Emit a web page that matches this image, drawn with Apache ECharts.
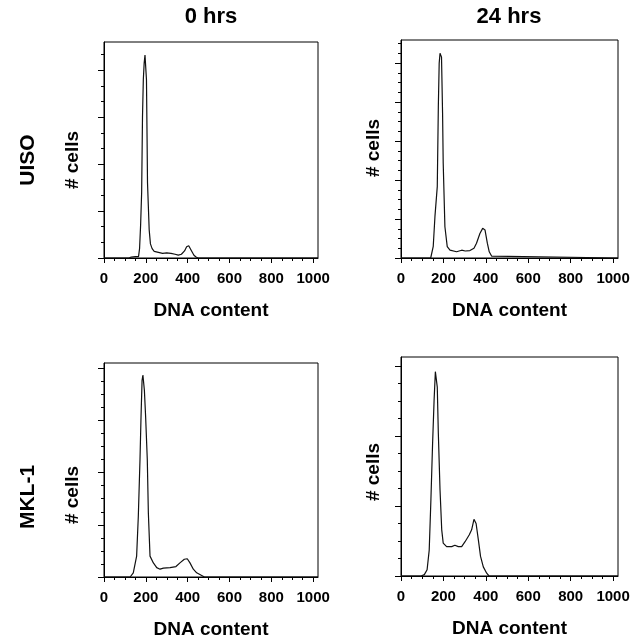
<!DOCTYPE html>
<html><head><meta charset="utf-8">
<script src="https://cdn.jsdelivr.net/npm/echarts@6/dist/echarts.min.js"></script>
<style>html,body{margin:0;padding:0;background:#fff}#c{width:639px;height:640px}</style>
</head><body><div id="c"></div>
<script>
// ---- data ----
const columnTitles = ['0 hrs', '24 hrs'];
const rowTitles = ['UISO', 'MKL-1'];
const xAxisName = 'DNA content';
const yAxisName = '# cells';
const xTickLabels = [0, 200, 400, 600, 800, 1000];
const xMinorStep = 50;
const xMax = 1023;

// histograms: [DNA content channel, # cells]
const uiso0h = [[0,0],[120,0],[130,2],[150,3],[165,3],[170,20],[175,70],[180,140],[184,300],[188,380],[192,415],[196,432],[200,428],[203,380],[206,250],[208,160],[212,110],[216,60],[222,30],[230,20],[240,14],[260,12],[280,10],[300,11],[320,10],[340,8],[355,6],[370,8],[385,15],[395,24],[405,26],[412,22],[420,14],[430,6],[440,2],[450,0],[1023,0]];
const uiso24h = [[0,0],[140,0],[148,2],[152,30],[160,106],[171,183],[176,388],[180,499],[184,525],[187,529],[191,515],[196,372],[199,243],[207,80],[218,29],[231,20],[262,16],[286,20],[303,18],[325,19],[344,25],[356,38],[372,63],[385,76],[396,72],[407,38],[416,16],[427,5],[435,0],[1023,0]];
const mkl0h = [[0,0],[125,0],[133,2],[140,8],[156,40],[164,116],[172,224],[177,307],[182,377],[186,387],[189,387],[193,358],[199,307],[207,224],[212,123],[220,40],[236,27],[252,18],[268,15],[284,17],[316,18],[344,20],[363,27],[384,34],[398,35],[411,27],[427,15],[443,8],[467,3],[480,0],[1023,0]];
const mkl24h = [[0,0],[95,0],[110,2],[118,4],[123,9],[133,37],[141,109],[149,190],[156,251],[162,292],[165,294],[171,270],[176,204],[184,123],[192,66],[199,47],[215,42],[239,42],[254,44],[270,42],[286,42],[302,49],[322,59],[333,66],[344,81],[354,75],[365,51],[375,28],[388,13],[404,4],[415,0],[1023,0]];

const panelData = [uiso0h, uiso24h, mkl0h, mkl24h];
const yMax = [460, 559, 410, 313];
const yMajorStep = [100, 100, 100, 100];
const yMinorStep = [100 / 3, 25, 25, 25];

// ---- layout ----
const grids = [
  {left: 104, top: 42, width: 214, height: 216},
  {left: 401, top: 40, width: 217, height: 218},
  {left: 104, top: 363, width: 214, height: 215},
  {left: 401, top: 357, width: 217, height: 219}
];
const FONT = 'Liberation Sans, Arial, Helvetica, sans-serif';

function steps(max, step) {
  const out = [];
  for (let k = 0; k * step <= max + 1e-6; k++) out.push(+(k * step).toFixed(4));
  return out;
}

const xMinorTicks = steps(1000, xMinorStep);

const option = {
  animation: false,
  backgroundColor: '#fff',
  grid: grids.map(g => Object.assign({show: true, borderColor: '#000', borderWidth: 1, containLabel: false}, g)),
  xAxis: [],
  yAxis: [],
  series: [],
  graphic: []
};

panelData.forEach((d, i) => {
  option.xAxis.push({
    type: 'value', gridIndex: i, min: 0, max: xMax, position: 'bottom',
    axisLine: {show: true, lineStyle: {color: '#000', width: 1}},
    axisTick: {show: true, inside: false, length: 5, customValues: xTickLabels, lineStyle: {color: '#000'}},
    axisLabel: {show: true, customValues: xTickLabels, formatter: v => String(v), margin: 13, color: '#000', fontFamily: FONT, fontWeight: 'bold', fontSize: 15},
    splitLine: {show: false},
    name: xAxisName, nameLocation: 'middle', nameGap: 43,
    nameTextStyle: {color: '#000', fontFamily: FONT, fontWeight: 'bold', fontSize: 19}
  });
  option.xAxis.push({
    type: 'value', gridIndex: i, min: 0, max: xMax, position: 'bottom', offset: 0,
    axisLine: {show: false},
    axisTick: {show: true, inside: false, length: 3, customValues: xMinorTicks, lineStyle: {color: '#000'}},
    axisLabel: {show: false}, splitLine: {show: false}
  });
  option.yAxis.push({
    type: 'value', gridIndex: i, min: 0, max: yMax[i], position: 'left',
    axisLine: {show: true, lineStyle: {color: '#000', width: 1}},
    axisTick: {show: true, inside: false, length: 6, customValues: steps(yMax[i], yMajorStep[i]), lineStyle: {color: '#000'}},
    axisLabel: {show: false}, splitLine: {show: false}
  });
  option.yAxis.push({
    type: 'value', gridIndex: i, min: 0, max: yMax[i], position: 'left', offset: 0,
    axisLine: {show: false},
    axisTick: {show: true, inside: false, length: 3, customValues: steps(yMax[i], yMinorStep[i]), lineStyle: {color: '#000'}},
    axisLabel: {show: false}, splitLine: {show: false}
  });
  option.series.push({
    type: 'line', xAxisIndex: 2 * i, yAxisIndex: 2 * i, data: d,
    showSymbol: false, symbol: 'none',
    lineStyle: {color: '#111', width: 1.2}
  });
});

// column titles
const colCenters = [211, 509];
columnTitles.forEach((t, c) => option.graphic.push({
  type: 'text', x: colCenters[c], y: 17,
  style: {text: t, fill: '#000', font: 'bold 22px ' + FONT, textAlign: 'center', textVerticalAlign: 'middle'}
}));
// row titles
const rowCenters = [160, 497];
rowTitles.forEach((t, r) => option.graphic.push({
  type: 'text', x: 28, y: rowCenters[r], rotation: Math.PI / 2,
  style: {text: t, fill: '#000', font: 'bold 21px ' + FONT, textAlign: 'center', textVerticalAlign: 'middle'}
}));
// y axis names
const yNamePos = [[73, 160], [374, 148], [73, 495], [374, 472]];
yNamePos.forEach(p => option.graphic.push({
  type: 'text', x: p[0], y: p[1], rotation: Math.PI / 2,
  style: {text: yAxisName, fill: '#000', font: 'bold 19px ' + FONT, textAlign: 'center', textVerticalAlign: 'middle'}
}));

const chart = echarts.init(document.getElementById('c'), null, {renderer: 'canvas'});
chart.setOption(option);
</script>
</body></html>
